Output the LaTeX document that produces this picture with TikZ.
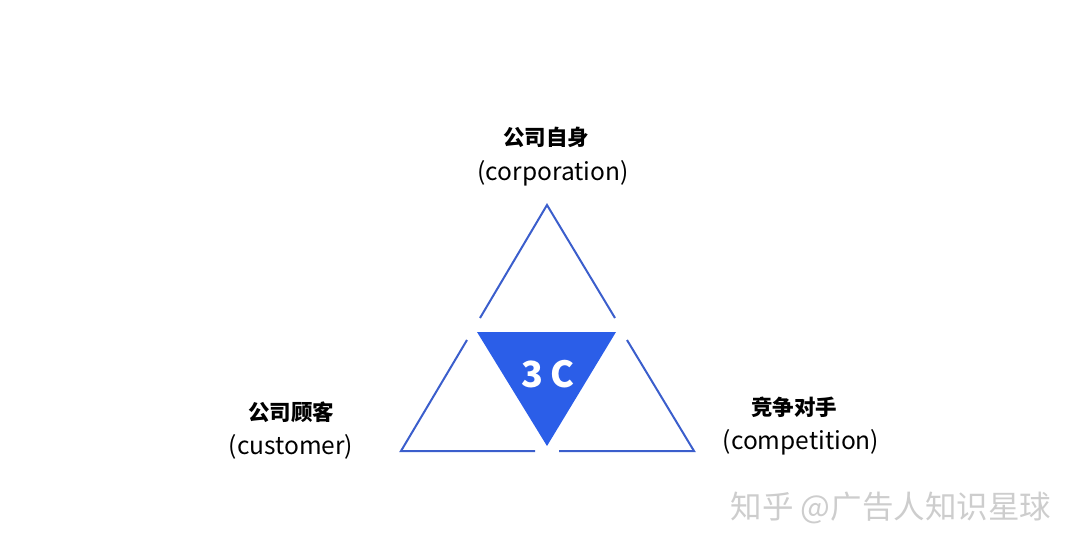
\documentclass[tikz,border=0pt]{standalone}
\usepackage{fontspec}
\usepackage{xcolor}
\usepackage{tikz}
\newfontfamily\cjk{Noto Sans CJK SC}
\usetikzlibrary{positioning}
\definecolor{lineblue}{RGB}{59,94,204}
\definecolor{fillblue}{RGB}{43,94,232}
\definecolor{markgray}{RGB}{205,205,205}

\begin{document}
\begin{tikzpicture}[x=1pt,y=-1pt,
      cn style/.style={font=\cjk\bfseries\fontsize{21.5}{24}\selectfont,inner sep=0pt},
      en style/.style={font=\cjk\fontsize{24.5}{28}\selectfont,inner sep=0pt},
      side style/.style={draw=lineblue,line width=2pt}
      ]
      \useasboundingbox (0,0) rectangle (1080,551);
      % outer triangles
      \coordinate (apex) at (547,205);
      \coordinate (topl) at (480,318);
      \coordinate (topr) at (615,318);
      \coordinate (leftt) at (467,340);
      \coordinate (leftb) at (401,451);
      \coordinate (leftm) at (535,451);
      \coordinate (rightt) at (627,340);
      \coordinate (rightb) at (694,451);
      \coordinate (rightm) at (559,451);
      \draw[side style] (topl) -- (apex) -- (topr);
      \draw[side style] (leftt) -- (leftb) -- (leftm);
      \draw[side style] (rightt) -- (rightb) -- (rightm);
      % center
      \coordinate (cl) at (477,332);
      \coordinate (cr) at (616,332);
      \coordinate (cb) at (547,446);
      \fill[fillblue] (cl) -- (cr) -- (cb) -- cycle;
      \node[text=white,font=\cjk\bfseries\fontsize{36}{40}\selectfont] (core) at (548,374) {3\hspace{7pt}C};
      % labels
      \node[cn style] (corp) at (546,137) {公司自身};
      \node[en style,below=13pt of corp,xshift=7pt] (p1) {(corporation)};
      \node[cn style] (cust) at (291,412) {公司顾客};
      \node[en style,below=12pt of cust] (p2) {(customer)};
      \node[cn style] (comp) at (794,407) {竞争对手};
      \node[en style,below=12pt of comp,xshift=7pt] (p3) {(competition)};
      \node[text=markgray,font=\cjk\fontsize{31.5}{34}\selectfont] (mark) at (891,508) {知乎 @广告人知识星球};
    \end{tikzpicture}
\end{document}
